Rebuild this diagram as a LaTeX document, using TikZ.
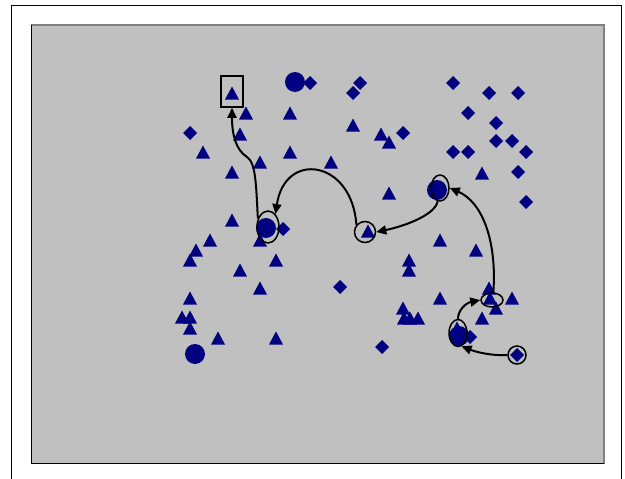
\documentclass[tikz,border=0pt]{standalone}
\usetikzlibrary{arrows.meta,shapes.geometric}
\definecolor{navy}{HTML}{000080}
\definecolor{panel}{HTML}{C0C0C0}
\definecolor{paneledge}{HTML}{808080}
\tikzset{
  ring/.style={draw=black,line width=1.5pt,ellipse,inner sep=0pt,fill=none},
  marker/.style={fill=navy,draw=none},
  arr/.style={draw=black,line width=2pt,-{Triangle[length=10pt,width=9pt]}}
}
\begin{document}
\begin{tikzpicture}[x=1pt,y=-1pt]
\useasboundingbox (0,0) rectangle (625,479);
% outer frame
\draw[line width=1.2pt] (11.7,479) -- (11.7,5.5) -- (621.7,5.5) -- (621.7,479);
% panel
\fill[panel] (31.3,24.8) rectangle (604,463.3);
\draw[paneledge,line width=1.4pt] (31.3,24.8) rectangle (604,463.3);
\draw[black,line width=1.4pt] (31.3,24.8) -- (31.3,463.3) -- (604,463.3);
% triangles
\foreach \x/\y in {232/93,246/113,290/113,240/134,203/152,290/152,260/162,331/162,232/172,
  353/125,381/134,389/142,482/173,389/193,
  232/220,260/240,368/231,210/240,196/250,190/260,276/260,240/270,
  440/240,476/250,409/260,409/270,260/288,190/298,
  440/298,489/288,490/298,496/308,512/298,
  403/308,404/318,410/318,418/318,482/318,
  182/317,190/317,190/328,218/338,276/338,457/328}
  \fill[marker] (\x-7,\y+6.5) -- (\x+7,\y+6.5) -- (\x,\y-6.5) -- cycle;
% diamonds
\foreach \x/\y in {310/83,360/83,353/93,453/83,489/93,518/93,468/113,190/133,403/133,
  496/123,496/141,512/141,453/152,468/152,526/152,518/172,526/202,283/229,340/287,
  470/337,382/347,517/355}
  \fill[marker] (\x-7,\y) -- (\x,\y-7) -- (\x+7,\y) -- (\x,\y+7) -- cycle;
% circles
\foreach \x/\y in {295/82,437/190,266/228,195/354,459/336}
  \fill[marker] (\x,\y) circle[radius=10];
% rings and box
\node[draw=black,line width=1.5pt,minimum width=22pt,minimum height=31pt,inner sep=0pt] (r) at (232,91.5) {};
\node[ring,minimum width=22pt,minimum height=32pt] (e1) at (268,227) {};
\node[ring,circle,minimum size=21pt] (e2) at (365,232) {};
\node[ring,minimum width=18pt,minimum height=26pt] (e3) at (440,188) {};
\node[ring,minimum width=22pt,minimum height=14pt] (e4) at (492,300) {};
\node[ring,minimum width=18pt,minimum height=27pt] (e5) at (458,333) {};
\node[ring,circle,minimum size=18pt] (e6) at (517,355) {};
% arrows
\draw[arr] (e6.west) .. controls (492,356) and (476,352) .. (e5.-75);
\draw[arr] (e5.north) .. controls (458,310) and (466,303) .. (e4.west);
\draw[arr] (e4.80) .. controls (497,240) and (482,202) .. (e3.east);
\draw[arr] (e3.-100) .. controls (435,215) and (405,226) .. (e2.east);
\draw[arr] (e2.140) .. controls (352,160) and (285,150) .. (e1.60);
\draw[arr] (e1.140) .. controls (256,185) and (256,163) .. (247,157) .. controls (236,150) and (232,135) .. (r.south);
\end{tikzpicture}
\end{document}
